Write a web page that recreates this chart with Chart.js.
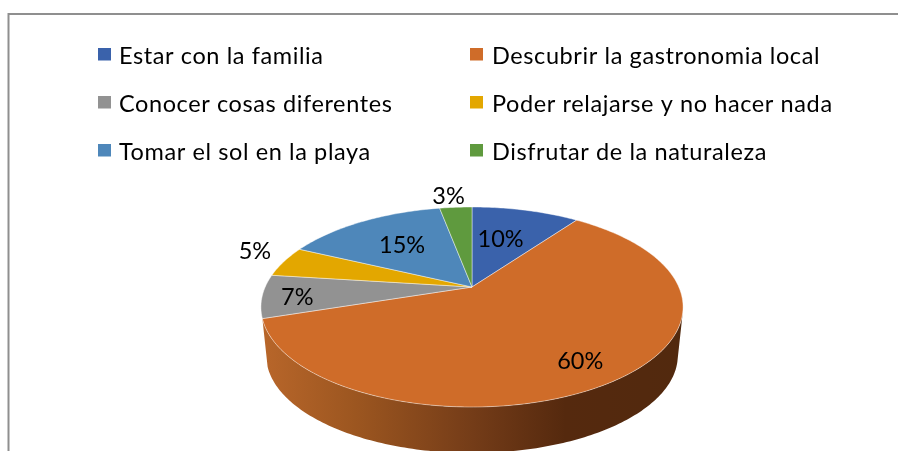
<!DOCTYPE html>
<html><head><meta charset="utf-8">
<script src="https://cdn.jsdelivr.net/npm/chart.js@4"></script>
<style>html,body{margin:0;padding:0;background:#fff}canvas{display:block}</style>
</head><body><canvas id="c" width="898" height="451"></canvas>
<script>
const categories = ["Estar con la familia","Descubrir la gastronomia local","Conocer cosas diferentes","Poder relajarse y no hacer nada","Tomar el sol en la playa","Disfrutar de la naturaleza"];
const shares = [10,60,7,5,15,3];
const colors = ["#3a62ab","#cf6c29","#929292","#e3a700","#4e87ba","#5f9a3e"];

const FONT = '23.5px Lato, "Open Sans", sans-serif';
const apex = {x:472, y:287};
const persp = {b:206.8, a:96, k:0.2};
const wall = {scale:0.975, drop:49};
// label placement: radial fraction of the disc, plus small pixel nudge
const labelPlace = [[.584,-5,0],[.834,-9,0],[.835,0,3],[1.164,0,-6],[.604,0,0],[1.174,-5,0]];

function project(theta, r, scale, drop){
  scale = scale||1; drop = drop||0;
  const c = Math.cos(theta)*r, s = Math.sin(theta)*r, d = 1 - persp.k*s;
  return {x: apex.x + scale*persp.b*c/d, y: apex.y + drop + scale*persp.a*s/d};
}
function rim(ctx, a0, a1, scale, drop, move){
  const n = Math.max(8, Math.ceil(Math.abs(a1-a0)*60));
  for(let i=0;i<=n;i++){
    const p = project(a0+(a1-a0)*i/n,1,scale,drop);
    if(i===0 && move) ctx.moveTo(p.x,p.y); else ctx.lineTo(p.x,p.y);
  }
}
const pie3d = {
  id:'pie3d',
  beforeDraw(chart){
    const ctx = chart.ctx;
    ctx.save();
    ctx.strokeStyle='#8f8f8f'; ctx.lineWidth=2;
    ctx.beginPath(); ctx.moveTo(8.5,451); ctx.lineTo(8.5,14); ctx.lineTo(898,14); ctx.stroke();
    ctx.restore();
  },
  beforeDatasetDraw(){ return false; },
  afterDatasetsDraw(chart){
    const ctx = chart.ctx, arcs = chart.getDatasetMeta(0).data;
    ctx.save();
    // side wall of the slices facing the viewer
    const wallFrom = 14*Math.PI/180, wallTo = Math.PI;
    arcs.forEach((arc,i)=>{
      const a0 = Math.max(arc.startAngle, wallFrom), a1 = Math.min(arc.endAngle, wallTo);
      if(a1<=a0 || shares[i]<20) return;
      const g = ctx.createLinearGradient(263,0,683,0);
      g.addColorStop(0,'#b8662a'); g.addColorStop(.22,'#9c5620');
      g.addColorStop(.5,'#743c18'); g.addColorStop(.72,'#55290e'); g.addColorStop(1,'#52290e');
      ctx.fillStyle = g;
      ctx.beginPath(); rim(ctx,a0,a1,1,0,true); rim(ctx,a1,a0,wall.scale,wall.drop,false); ctx.closePath(); ctx.fill();
    });
    // top surface
    arcs.forEach((arc,i)=>{
      ctx.beginPath(); ctx.moveTo(apex.x,apex.y); rim(ctx,arc.startAngle,arc.endAngle,1,0,false); ctx.closePath();
      ctx.fillStyle = colors[i]; ctx.fill();
      ctx.strokeStyle='rgba(255,255,255,.55)'; ctx.lineWidth=.8; ctx.stroke();
    });
    // value labels
    ctx.font = FONT; ctx.fillStyle='#000'; ctx.textAlign='center'; ctx.textBaseline='middle';
    arcs.forEach((arc,i)=>{
      const [r,dx,dy] = labelPlace[i];
      const p = project((arc.startAngle+arc.endAngle)/2, r);
      ctx.fillText(shares[i]+'%', p.x+dx, p.y+dy);
    });
    // two-column legend
    ctx.textAlign='left'; ctx.textBaseline='alphabetic';
    ctx.letterSpacing='0.6px';
    categories.forEach((t,i)=>{
      const col=i%2, row=Math.floor(i/2), bx=col?470:98, by=48+row*48;
      ctx.fillStyle=colors[i]; ctx.fillRect(bx,by,13,12.5);
      ctx.fillStyle='#000'; ctx.fillText(t, bx+(col?22:21), by+15.5);
    });
    ctx.restore();
  }
};
new Chart(document.getElementById('c'),{
  type:'pie',
  data:{labels:categories,datasets:[{data:shares,backgroundColor:colors}]},
  options:{responsive:false,animation:false,plugins:{legend:{display:false},tooltip:{enabled:false}}},
  plugins:[pie3d]
});
</script></body></html>
